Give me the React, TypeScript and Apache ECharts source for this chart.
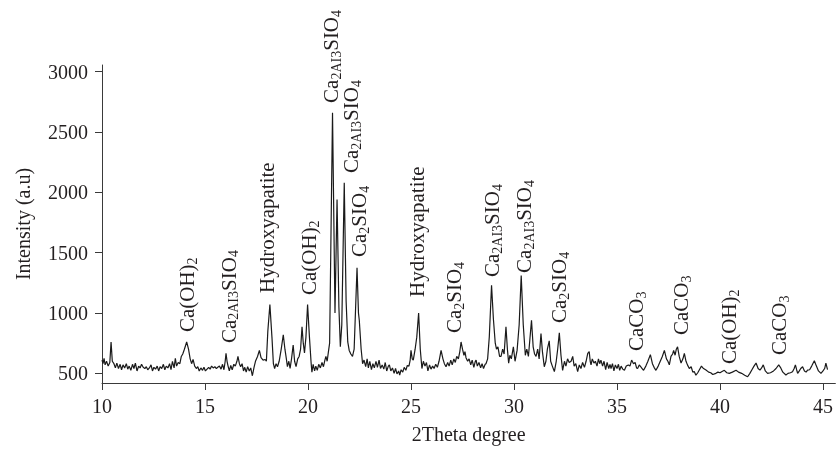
import React, { useEffect, useRef } from "react";
import * as echarts from "echarts";

const xTicks = [10, 15, 20, 25, 30, 35, 40, 45];
const yTicks = [500, 1000, 1500, 2000, 2500, 3000];

// [2Theta (deg), intensity (a.u.)]
const xrdTrace: [number, number][] = [
  [10.0, 610], [10.05, 580], [10.1, 625], [10.15, 570], [10.22, 600], [10.3, 560], [10.38, 590], [10.44, 760],
  [10.5, 600], [10.58, 580], [10.65, 545], [10.72, 585], [10.8, 540], [10.88, 575], [10.95, 530], [11.02, 570],
  [11.1, 545], [11.18, 580], [11.25, 535], [11.32, 560], [11.4, 525], [11.48, 575], [11.55, 540], [11.62, 585],
  [11.7, 520], [11.78, 560], [11.85, 545], [11.92, 575], [12.0, 550], [12.08, 540], [12.15, 555], [12.22, 530],
  [12.3, 545], [12.38, 570], [12.45, 520], [12.52, 550], [12.6, 535], [12.68, 560], [12.75, 520], [12.82, 555],
  [12.9, 540], [12.98, 575], [13.05, 530], [13.12, 560], [13.2, 545], [13.28, 580], [13.35, 530], [13.42, 600],
  [13.5, 545], [13.56, 625], [13.62, 560], [13.7, 590], [13.78, 580], [13.85, 640], [13.92, 660], [14.0, 700],
  [14.11, 760], [14.2, 700], [14.28, 620], [14.35, 580], [14.42, 615], [14.5, 560], [14.58, 540], [14.65, 555],
  [14.72, 520], [14.8, 545], [14.88, 525], [14.95, 550], [15.02, 520], [15.1, 535], [15.18, 550], [15.25, 535],
  [15.32, 560], [15.4, 545], [15.48, 555], [15.55, 540], [15.62, 550], [15.7, 560], [15.78, 535], [15.85, 575],
  [15.92, 530], [15.98, 600], [16.02, 665], [16.07, 600], [16.12, 560], [16.18, 520], [16.25, 565], [16.32, 530],
  [16.4, 575], [16.47, 560], [16.55, 600], [16.6, 640], [16.67, 580], [16.73, 555], [16.8, 580], [16.87, 520],
  [16.93, 550], [17.0, 510], [17.07, 555], [17.15, 520], [17.22, 545], [17.3, 480], [17.38, 550], [17.45, 600],
  [17.55, 640], [17.64, 690], [17.72, 630], [17.82, 610], [17.92, 615], [17.98, 600], [18.05, 850], [18.15, 1070],
  [18.25, 800], [18.32, 580], [18.38, 540], [18.45, 580], [18.52, 555], [18.6, 600], [18.7, 700], [18.8, 820],
  [18.88, 700], [18.95, 620], [19.0, 555], [19.07, 600], [19.13, 540], [19.2, 620], [19.28, 735], [19.35, 600],
  [19.42, 555], [19.5, 620], [19.57, 640], [19.64, 700], [19.71, 885], [19.77, 750], [19.83, 670], [19.9, 800],
  [19.98, 1070], [20.07, 800], [20.15, 590], [20.19, 510], [20.25, 575], [20.32, 520], [20.38, 560], [20.45, 525],
  [20.52, 575], [20.6, 545], [20.68, 590], [20.75, 555], [20.82, 610], [20.87, 640], [20.93, 600], [21.0, 690],
  [21.05, 750], [21.19, 2660], [21.31, 1000], [21.41, 1940], [21.5, 1050], [21.57, 720], [21.64, 900], [21.76, 2080],
  [21.85, 1100], [21.93, 760], [22.0, 690], [22.08, 660], [22.16, 640], [22.24, 700], [22.38, 1375], [22.45, 1000],
  [22.49, 940], [22.58, 700], [22.65, 580], [22.72, 610], [22.8, 555], [22.87, 620], [22.93, 545], [23.0, 600],
  [23.08, 530], [23.15, 580], [23.22, 545], [23.3, 600], [23.37, 550], [23.45, 610], [23.52, 540], [23.6, 570],
  [23.68, 535], [23.75, 590], [23.82, 520], [23.9, 560], [23.95, 570], [24.02, 520], [24.1, 545], [24.18, 500],
  [24.25, 540], [24.32, 495], [24.4, 520], [24.45, 485], [24.52, 530], [24.6, 510], [24.67, 550], [24.75, 525],
  [24.82, 565], [24.9, 560], [24.96, 610], [25.0, 690], [25.06, 620], [25.11, 610], [25.2, 700], [25.28, 800],
  [25.37, 1000], [25.45, 700], [25.53, 540], [25.6, 600], [25.68, 560], [25.75, 590], [25.82, 520], [25.9, 570],
  [25.97, 535], [26.05, 560], [26.12, 540], [26.2, 575], [26.28, 550], [26.36, 600], [26.46, 690], [26.55, 620],
  [26.62, 580], [26.7, 555], [26.78, 590], [26.85, 560], [26.93, 610], [27.0, 570], [27.08, 620], [27.15, 590],
  [27.22, 640], [27.3, 620], [27.37, 680], [27.43, 760], [27.5, 700], [27.57, 650], [27.62, 680], [27.67, 630],
  [27.75, 600], [27.82, 620], [27.9, 570], [27.97, 610], [28.05, 550], [28.12, 600], [28.16, 610], [28.22, 560],
  [28.3, 590], [28.38, 545], [28.45, 580], [28.52, 540], [28.6, 575], [28.64, 580], [28.72, 620], [28.8, 800],
  [28.91, 1230], [29.0, 950], [29.09, 750], [29.15, 700], [29.22, 720], [29.3, 640], [29.37, 640], [29.45, 700],
  [29.52, 660], [29.61, 885], [29.68, 700], [29.74, 585], [29.8, 650], [29.87, 620], [29.93, 680], [29.97, 720],
  [30.05, 600], [30.15, 690], [30.25, 900], [30.35, 1310], [30.45, 900], [30.55, 650], [30.62, 700], [30.7, 640],
  [30.77, 780], [30.85, 940], [30.93, 720], [31.0, 660], [31.07, 640], [31.15, 700], [31.22, 620], [31.31, 830],
  [31.38, 680], [31.47, 555], [31.55, 600], [31.62, 700], [31.71, 770], [31.78, 600], [31.86, 560], [31.96, 515],
  [32.05, 600], [32.12, 700], [32.2, 835], [32.28, 650], [32.36, 525], [32.45, 600], [32.52, 560], [32.6, 620],
  [32.68, 590], [32.77, 600], [32.85, 640], [32.92, 560], [33.0, 580], [33.09, 515], [33.17, 570], [33.25, 540],
  [33.33, 590], [33.42, 550], [33.5, 600], [33.58, 665], [33.65, 680], [33.7, 600], [33.74, 570], [33.8, 620],
  [33.88, 585], [33.95, 600], [34.03, 560], [34.1, 620], [34.16, 580], [34.22, 610], [34.3, 560], [34.37, 600],
  [34.45, 530], [34.52, 590], [34.6, 540], [34.66, 575], [34.71, 540], [34.78, 580], [34.85, 520], [34.92, 570],
  [35.0, 540], [35.07, 575], [35.13, 525], [35.2, 560], [35.28, 535], [35.36, 525], [35.45, 560], [35.55, 570],
  [35.63, 560], [35.71, 610], [35.8, 580], [35.88, 590], [35.95, 545], [36.0, 540], [36.08, 570], [36.15, 555],
  [36.22, 540], [36.29, 525], [36.4, 560], [36.5, 600], [36.62, 655], [36.72, 580], [36.8, 550], [36.89, 525],
  [37.0, 560], [37.1, 600], [37.2, 640], [37.3, 690], [37.4, 620], [37.47, 600], [37.54, 570], [37.62, 640],
  [37.7, 660], [37.75, 690], [37.82, 650], [37.88, 700], [37.94, 720], [38.02, 640], [38.11, 585], [38.2, 620],
  [38.27, 665], [38.35, 600], [38.42, 570], [38.51, 540], [38.6, 555], [38.68, 510], [38.75, 515], [38.83, 485],
  [38.92, 505], [39.0, 530], [39.1, 560], [39.2, 540], [39.32, 527], [39.45, 510], [39.55, 505], [39.65, 490],
  [39.8, 500], [39.9, 510], [40.0, 505], [40.1, 515], [40.21, 525], [40.33, 505], [40.45, 500], [40.6, 510],
  [40.78, 525], [40.9, 510], [41.05, 500], [41.2, 485], [41.34, 472], [41.45, 500], [41.55, 530], [41.65, 560],
  [41.75, 585], [41.85, 540], [41.94, 527], [42.02, 545], [42.1, 570], [42.2, 520], [42.31, 500], [42.45, 505],
  [42.6, 520], [42.72, 540], [42.85, 570], [42.95, 545], [43.05, 510], [43.2, 486], [43.3, 500], [43.42, 505],
  [43.52, 514], [43.6, 540], [43.66, 570], [43.72, 530], [43.77, 500], [43.85, 520], [43.92, 540], [44.01, 555],
  [44.1, 520], [44.18, 510], [44.25, 527], [44.35, 530], [44.45, 560], [44.58, 605], [44.68, 560], [44.78, 520],
  [44.9, 500], [45.0, 520], [45.08, 540], [45.14, 585], [45.22, 530],
];

// Phase annotations (rich text: {s|...} = subscript)
const peakLabels = [
  "Ca(OH){s|2}",
  "Ca{s|2AI3}SIO{s|4}",
  "Hydroxyapatite",
  "Ca(OH){s|2}",
  "Ca{s|2AI3}SIO{s|4}",
  "Ca{s|2AI3}SIO{s|4}",
  "Ca{s|2}SIO{s|4}",
  "Hydroxyapatite",
  "Ca{s|2}SIO{s|4}",
  "Ca{s|2AI3}SIO{s|4}",
  "Ca{s|2AI3}SIO{s|4}",
  "Ca{s|2}SIO{s|4}",
  "CaCO{s|3}",
  "CaCO{s|3}",
  "Ca(OH){s|2}",
  "CaCO{s|3}",
];
const peakLabelTheta = [14.14, 16.15, 18.03, 20.06, 21.13, 22.1, 22.49, 25.31, 27.1, 28.95, 30.5, 32.2, 35.93, 38.12, 40.45, 42.88];
const peakLabelIntensity = [842, 751, 1166, 1149, 2741, 2160, 1464, 1133, 834, 1298, 1332, 917, 685, 817, 577, 652];

const FONT = '"Liberation Serif", "Times New Roman", serif';
const INK = "#231f20";

export default function App() {
  const ref = useRef<HTMLDivElement>(null);

  useEffect(() => {
    if (!ref.current) return;
    const chart = echarts.init(ref.current, null, { renderer: "svg" });
    const axisLineStyle = { color: "#3a3a3a", width: 1 };
    chart.setOption({
      animation: false,
      textStyle: { fontFamily: FONT, color: INK },
      grid: { left: 102, right: 0, top: 65, bottom: 68 },
      xAxis: {
        type: "value",
        min: 10,
        max: 45.6,
        name: "2Theta degree",
        nameLocation: "middle",
        nameGap: 41,
        nameTextStyle: { fontFamily: FONT, fontSize: 20, color: INK },
        axisLine: { show: true, onZero: false, lineStyle: axisLineStyle },
        axisTick: { show: true, customValues: xTicks, length: 7, lineStyle: axisLineStyle },
        axisLabel: {
          customValues: xTicks,
          margin: 13,
          fontSize: 20,
          fontFamily: FONT,
          color: INK,
          formatter: (v: number) => String(v),
        },
        splitLine: { show: false },
      },
      yAxis: {
        type: "value",
        min: 420,
        max: 3055,
        name: "Intensity (a.u)",
        nameLocation: "middle",
        nameGap: 69,
        nameTextStyle: { fontFamily: FONT, fontSize: 20, color: INK },
        axisLine: { show: true, onZero: false, lineStyle: axisLineStyle },
        axisTick: { show: true, customValues: yTicks, length: 7, lineStyle: axisLineStyle },
        axisLabel: {
          customValues: yTicks,
          margin: 14,
          fontSize: 20,
          fontFamily: FONT,
          color: INK,
          formatter: (v: number) => String(v),
        },
        splitLine: { show: false },
      },
      series: [
        {
          type: "line",
          data: xrdTrace,
          showSymbol: false,
          silent: true,
          lineStyle: { color: "#1a1a1a", width: 1.2 },
        },
        {
          type: "scatter",
          symbolSize: 0,
          silent: true,
          itemStyle: { opacity: 1 },
          data: peakLabels.map((t, i) => ({
            value: [peakLabelTheta[i], peakLabelIntensity[i]],
            label: { formatter: t },
          })),
          label: {
            show: true,
            position: "inside",
            rotate: 90,
            align: "left",
            verticalAlign: "middle",
            fontFamily: FONT,
            fontSize: 21,
            color: INK,
            rich: {
              s: { fontFamily: FONT, fontSize: 14, color: INK, padding: [10, 0, 0, 0] },
            },
          },
        },
      ],
    });
    return () => chart.dispose();
  }, []);

  return (
    <div
      ref={ref}
      style={{ position: "fixed", left: 0, top: 0, width: 836, height: 451 }}
    />
  );
}
